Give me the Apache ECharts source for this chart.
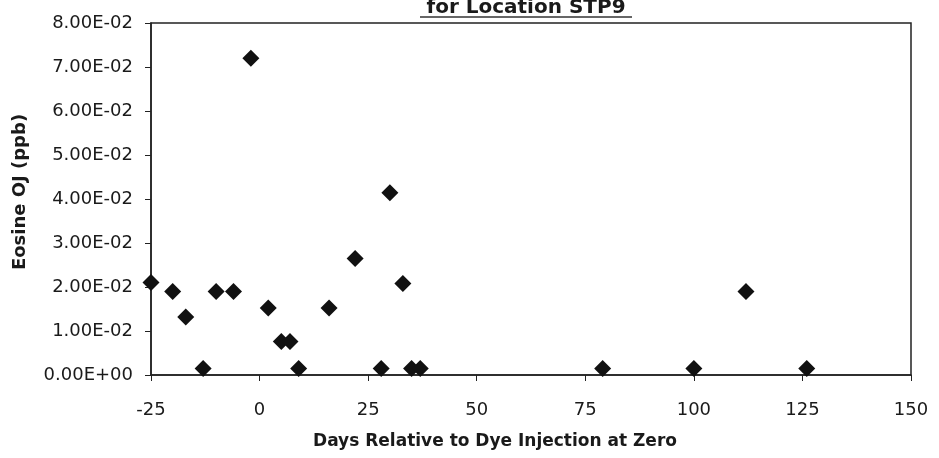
<!DOCTYPE html>
<html>
<head>
<meta charset="utf-8">
<title>Eosine OJ for Location STP9</title>
<script src="https://cdn.jsdelivr.net/npm/echarts@6/dist/echarts.min.js"></script>
<style>
html, body { margin: 0; padding: 0; background: #fff; }
#chart { width: 939px; height: 458px; }
</style>
</head>
<body>
<div id="chart"></div>
<script>
// days relative to dye injection, and measured eosine (ppb)
const days = [-25, -20, -17, -13, -10, -6, -2, 2, 5, 7, 9, 16, 22, 28, 30, 33, 35, 37, 79, 100, 112, 126]
const eosine = [0.021, 0.019, 0.0132, 0.0015, 0.019, 0.019, 0.072, 0.0152, 0.0076, 0.0076, 0.0015, 0.0152,
  0.0265, 0.0015, 0.0414, 0.0208, 0.0015, 0.0015, 0.0015, 0.0015, 0.019, 0.0015]
const xTicks = [-25, 0, 25, 50, 75, 100, 125, 150]
const yTicks = [0, 0.01, 0.02, 0.03, 0.04, 0.05, 0.06, 0.07, 0.08]

const points = days.map((d, i) => [d, eosine[i]])

// 0.02 -> 2.00E-02
function sci (v) {
  if (v === 0) return '0.00E+00'
  let exp = Math.floor(Math.log10(Math.abs(v)) + 1e-9)
  let mant = (v / Math.pow(10, exp)).toFixed(2)
  let sign = exp < 0 ? '-' : '+'
  let e = String(Math.abs(exp)).padStart(2, '0')
  return mant + 'E' + sign + e
}

const font = 'DejaVu Sans'
const chart = echarts.init(document.getElementById('chart'))
chart.setOption({
  backgroundColor: '#fff',
  animation: false,
  textStyle: { fontFamily: font },
  grid: {
    left: 151,
    right: 28,
    top: 23,
    bottom: 83,
    show: true,
    borderColor: '#222',
    borderWidth: 1.5
  },
  graphic: [
    {
      type: 'text',
      x: 526,
      y: -2,
      style: {
        text: 'for Location STP9',
        font: 'bold 20px "DejaVu Sans"',
        fill: '#1a1a1a',
        textAlign: 'center'
      }
    },
    {
      type: 'line',
      shape: { x1: 420, y1: 17, x2: 632, y2: 17 },
      style: { stroke: '#333', lineWidth: 1.5 }
    }
  ],
  xAxis: {
    type: 'value',
    min: xTicks[0],
    max: xTicks[xTicks.length - 1],
    interval: 25,
    name: 'Days Relative to Dye Injection at Zero',
    nameLocation: 'middle',
    nameGap: 58,
    nameTextStyle: {
      fontSize: 17,
      fontWeight: 'bold',
      color: '#1a1a1a',
      padding: [0, 72, 0, 0]
    },
    axisLine: { show: true, onZero: false, lineStyle: { color: '#222', width: 1.5 } },
    axisTick: { show: true, length: 6, lineStyle: { color: '#222' } },
    axisLabel: { fontSize: 18, color: '#1a1a1a', margin: 26 },
    splitLine: { show: false }
  },
  yAxis: {
    type: 'value',
    min: yTicks[0],
    max: yTicks[yTicks.length - 1],
    interval: 0.01,
    name: 'Eosine OJ (ppb)',
    nameLocation: 'middle',
    nameGap: 122,
    nameTextStyle: {
      fontSize: 18,
      fontWeight: 'bold',
      color: '#1a1a1a',
      padding: [0, 0, 0, 14]
    },
    axisLine: { show: true, onZero: false, lineStyle: { color: '#222', width: 1.5 } },
    axisTick: { show: true, length: 6, lineStyle: { color: '#222' } },
    axisLabel: { fontSize: 18, color: '#1a1a1a', margin: 18, formatter: sci },
    splitLine: { show: false }
  },
  series: [
    {
      type: 'scatter',
      name: 'Eosine OJ',
      data: points,
      symbol: 'diamond',
      symbolSize: 17,
      clip: false,
      itemStyle: { color: '#111', opacity: 1 }
    }
  ]
})
</script>
</body>
</html>
